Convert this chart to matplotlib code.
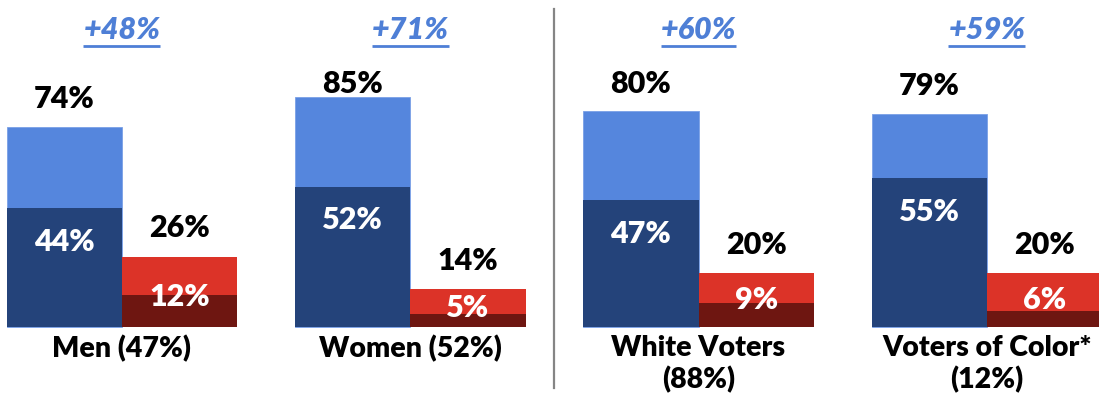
import numpy as np
import matplotlib.pyplot as plt

# data
groups = ["Men (47%)", "Women (52%)", "White Voters\n(88%)", "Voters of Color*\n(12%)"]
fav_total = [74, 85, 80, 79]
fav_strong = [44, 52, 47, 55]
unfav_total = [26, 14, 20, 20]
unfav_strong = [12, 5, 9, 6]
net = ["+48%", "+71%", "+60%", "+59%"]

light_blue = "#5586dd"
dark_blue = "#24437a"
light_red = "#dc3328"
dark_red = "#6e1611"
net_color = "#4e7fd6"

plt.rcParams['font.family'] = ['Lato', 'DejaVu Sans']

fig = plt.figure(figsize=(10.99, 4.01), dpi=100)
ax = fig.add_axes([0, 0, 1, 1])
ax.set_xlim(-0.423, 3.389)
ax.set_ylim(-27.4, 121.1)
ax.axis("off")

x = np.arange(len(groups))
w = 0.4

# favorable (blue) and unfavorable (red) bars, strong part drawn on top
ax.bar(x - w / 2, fav_total, w, color=light_blue, edgecolor="#7aa0e6", linewidth=0.6)
ax.bar(x - w / 2, fav_strong, w, color=dark_blue)
ax.bar(x + w / 2, unfav_total, w, color=light_red)
ax.bar(x + w / 2, unfav_strong, w, color=dark_red)

fs = 22
wt = "heavy"
for i in range(len(groups)):
    # total labels above bars
    ax.text(x[i] - w / 2, min(fav_total[i] + 10.4, 90), f"{fav_total[i]}%",
            ha="center", va="center", fontsize=fs, fontweight=wt, color="black")
    ax.text(x[i] + w / 2, min(unfav_total[i] + 10.5, 90), f"{unfav_total[i]}%",
            ha="center", va="center", fontsize=fs, fontweight=wt, color="black")
    # strong labels inside bars
    ax.text(x[i] - w / 2, fav_strong[i] - 12.5, f"{fav_strong[i]}%",
            ha="center", va="center", fontsize=fs, fontweight=wt, color="white")
    ax.text(x[i] + w / 2, min(11, unfav_total[i] / 2), f"{unfav_strong[i]}%",
            ha="center", va="center", fontsize=fs, fontweight=wt, color="white")
    # group names under the bars
    ax.text(x[i], -3.0, groups[i], ha="center", va="top", fontsize=20.5,
            fontweight=wt, color="black", linespacing=1.2)

# net margin on top, underlined
fig.canvas.draw()
renderer = fig.canvas.get_renderer()
inv = ax.transData.inverted()
for i in range(len(groups)):
    t = ax.text(x[i], 110, net[i], ha="center", va="center", fontsize=fs,
                fontweight=wt, style="italic", color=net_color)
    bb = t.get_window_extent(renderer)
    (x0, y0), (x1, y1) = inv.transform([(bb.x0, bb.y0), (bb.x1, bb.y1)])
    ax.plot([x0, x1], [y0 - 0.6, y0 - 0.6], color=net_color, lw=2, solid_capstyle="butt")

# divider between gender and race groups
ax.plot([1.5, 1.5], [-22.6, 117.8], color="#858585", lw=1.6)

fig.savefig("out.png", dpi=100)
